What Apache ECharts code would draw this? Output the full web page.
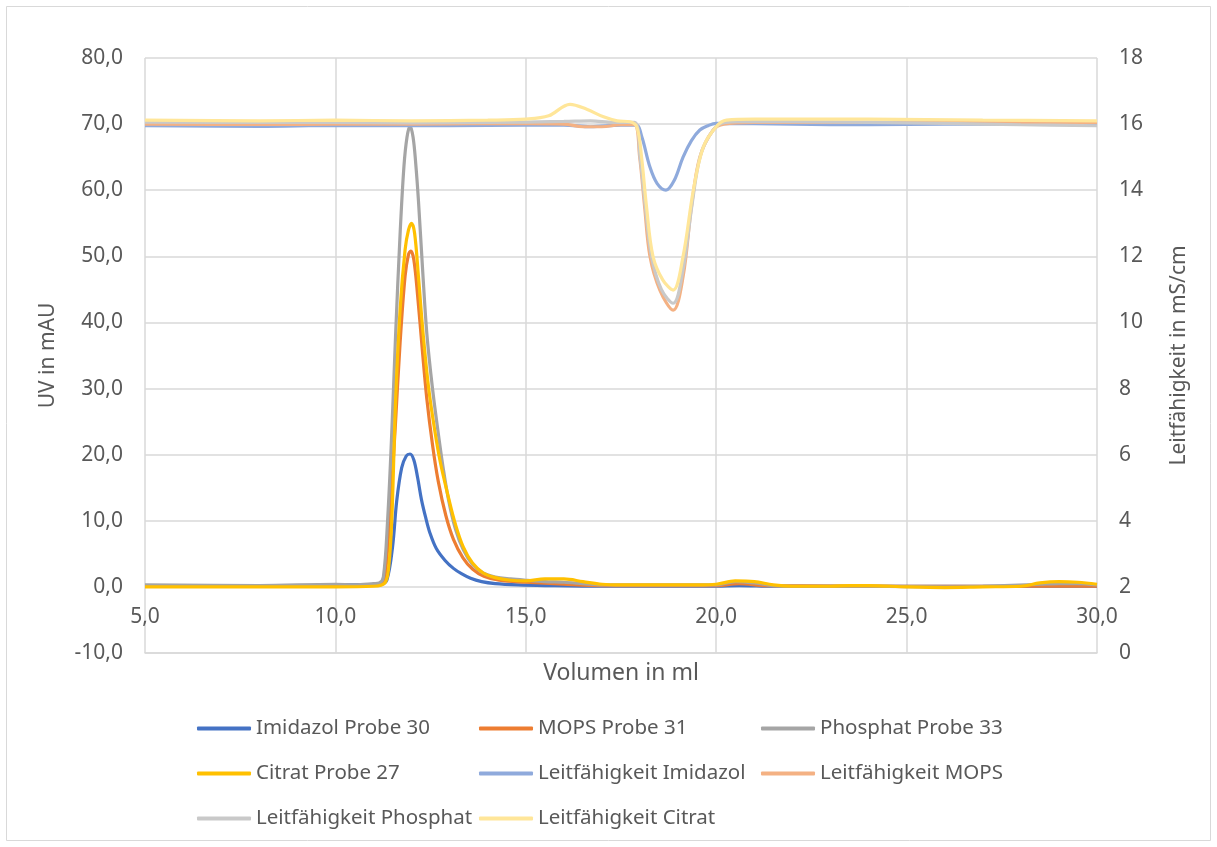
<!DOCTYPE html>
<html><head><meta charset="utf-8">
<script src="https://cdn.jsdelivr.net/npm/echarts@6/dist/echarts.min.js"></script>
<style>html,body{margin:0;padding:0;background:#fff}#c{width:1217px;height:847px}</style>
</head><body><div id="c"></div>
<script>
// ---- Data ----
const xTicks = [5, 10, 15, 20, 25, 30];

const imidazolX = [5, 7, 9, 10, 11, 11.2, 11.35, 11.5, 11.61, 11.74, 11.86, 11.96, 12.06, 12.16, 12.26, 12.37, 12.48, 12.65, 12.88, 13.1, 13.31, 13.55, 13.84, 14.2, 14.8, 15.5, 17, 19, 20, 20.6, 21.5, 24, 27, 30];
const imidazolY = [0.2, 0.2, 0.2, 0.3, 0.3, 0.4, 1.0, 6.0, 13.0, 18.0, 19.8, 20.1, 19.2, 16.5, 13.2, 10.5, 8.2, 5.8, 4.0, 2.8, 2.0, 1.3, 0.8, 0.5, 0.3, 0.2, 0.1, 0.1, 0.1, 0.2, 0.1, 0.1, 0.1, 0.1];

const mopsX = [5, 8, 10, 11, 11.2, 11.3, 11.42, 11.58, 11.7, 11.83, 11.92, 11.98, 12.06, 12.16, 12.28, 12.4, 12.55, 12.7, 12.9, 13.1, 13.35, 13.6, 13.9, 14.3, 15, 16, 17, 18, 20, 20.6, 21.3, 25, 30];
const mopsY = [0.1, 0.1, 0.1, 0.3, 0.5, 1.5, 10, 25, 37, 47, 50.3, 50.8, 49.5, 44, 36, 28.5, 21.5, 16, 10.8, 7.2, 4.4, 2.7, 1.6, 1.0, 0.7, 0.4, 0.2, 0.2, 0.2, 0.5, 0.2, 0.1, 0.1];

const phosphatX = [5, 8, 10, 10.5, 11, 11.15, 11.26, 11.37, 11.48, 11.58, 11.7, 11.8, 11.88, 11.96, 12.04, 12.11, 12.18, 12.29, 12.4, 12.55, 12.7, 12.83, 12.97, 13.15, 13.36, 13.6, 13.88, 14.2, 14.6, 15, 15.5, 16, 16.5, 17, 18, 19, 20, 20.5, 21, 21.5, 22, 24, 26, 27, 28.5, 29, 29.5, 30];
const phosphatY = [0.3, 0.2, 0.4, 0.3, 0.5, 0.6, 1.5, 10, 23.3, 38, 53.5, 63.6, 68, 69.7, 68, 64, 58.5, 48, 38.4, 30, 23.3, 18, 13.2, 8.8, 5.6, 3.4, 2.1, 1.5, 1.2, 1.0, 0.8, 0.7, 0.5, 0.3, 0.3, 0.3, 0.3, 0.8, 0.6, 0.2, 0.1, 0.1, 0.0, 0.1, 0.4, 0.5, 0.5, 0.3];

const citratX = [5, 10, 11, 11.3, 11.4, 11.48, 11.58, 11.7, 11.83, 11.92, 12.0, 12.08, 12.18, 12.3, 12.45, 12.6, 12.75, 12.97, 13.15, 13.36, 13.6, 13.88, 14.2, 14.6, 15, 15.5, 16, 16.5, 17, 17.5, 18.5, 19.5, 20, 20.5, 21, 21.5, 22, 23, 23.5, 24, 25, 26, 27, 28, 28.5, 29, 29.5, 30];
const citratY = [0.0, 0.0, 0.1, 0.6, 3, 10, 28, 42, 51, 54, 55, 53.5, 47, 38.5, 30, 24, 19, 13.5, 9.5, 6, 3.6, 2.1, 1.4, 1.0, 0.9, 1.2, 1.2, 0.8, 0.4, 0.3, 0.3, 0.3, 0.4, 0.9, 0.8, 0.3, 0.1, 0.1, 0.2, 0.2, 0.0, -0.1, 0.0, 0.1, 0.6, 0.8, 0.7, 0.4];

const lImidazolX = [5, 8, 10, 12, 14, 16, 16.7, 17.5, 17.9, 18.05, 18.26, 18.45, 18.68, 18.9, 19.13, 19.35, 19.57, 19.8, 20, 22, 24, 26, 28, 30];
const lImidazolY = [15.95, 15.93, 15.96, 15.95, 15.96, 15.97, 15.92, 15.97, 15.97, 15.6, 14.7, 14.2, 14.0, 14.3, 15.0, 15.5, 15.82, 15.96, 16.02, 16.0, 15.98, 16.0, 16.0, 16.0];

const lMopsX = [5, 8, 10, 12, 14, 16, 16.5, 17, 17.5, 17.85, 17.99, 18.12, 18.26, 18.52, 18.87, 19.13, 19.35, 19.57, 19.92, 20.2, 21, 24, 27, 30];
const lMopsY = [16.0, 15.99, 16.0, 16.0, 16.02, 16.0, 15.92, 15.92, 15.98, 15.98, 15.0, 13.5, 12.0, 10.98, 10.37, 11.38, 13.5, 15.0, 15.82, 16.0, 16.05, 16.05, 16.05, 16.05];

const lPhosphatX = [5, 8, 10, 12, 14, 16, 16.7, 17.3, 17.85, 18.0, 18.14, 18.3, 18.56, 18.87, 19.13, 19.37, 19.6, 19.95, 20.25, 21, 24, 26, 28, 30];
const lPhosphatY = [16.06, 16.05, 16.05, 16.04, 16.05, 16.08, 16.1, 16.05, 16.05, 15.0, 13.5, 12.0, 11.0, 10.58, 11.6, 13.6, 15.1, 15.86, 16.05, 16.08, 16.05, 16.02, 15.98, 15.95];

const lCitratX = [5, 8, 10, 12, 14, 15, 15.6, 16.16, 16.6, 17.04, 17.4, 17.74, 17.92, 18.04, 18.17, 18.34, 18.6, 18.87, 19.13, 19.4, 19.66, 20.0, 20.27, 21, 24, 27, 30];
const lCitratY = [16.12, 16.1, 16.12, 16.1, 16.12, 16.15, 16.25, 16.6, 16.45, 16.22, 16.1, 16.07, 15.9, 15.0, 13.5, 12.0, 11.28, 10.98, 12.0, 14.0, 15.3, 15.92, 16.12, 16.15, 16.15, 16.12, 16.1];

const seriesDefs = [
  {name: 'Imidazol Probe 30', x: imidazolX, y: imidazolY, color: '#4472C4', axis: 0},
  {name: 'MOPS Probe 31', x: mopsX, y: mopsY, color: '#ED7D31', axis: 0},
  {name: 'Phosphat Probe 33', x: phosphatX, y: phosphatY, color: '#A5A5A5', axis: 0},
  {name: 'Citrat Probe 27', x: citratX, y: citratY, color: '#FFC000', axis: 0},
  {name: 'Leitfähigkeit Imidazol', x: lImidazolX, y: lImidazolY, color: '#8FAADC', axis: 1},
  {name: 'Leitfähigkeit MOPS', x: lMopsX, y: lMopsY, color: '#F4B183', axis: 1},
  {name: 'Leitfähigkeit Phosphat', x: lPhosphatX, y: lPhosphatY, color: '#C9C9C9', axis: 1},
  {name: 'Leitfähigkeit Citrat', x: lCitratX, y: lCitratY, color: '#FFE699', axis: 1}
];

const FONT = 'Noto Sans';
const TXT = '#595959';
const GRID = '#D9D9D9';
const fmt1 = v => v.toFixed(1).replace('.', ',');

const chart = echarts.init(document.getElementById('c'), null, {renderer: 'canvas'});

const legendCommon = {
  orient: 'vertical', top: 718, padding: 0, itemWidth: 54, itemHeight: 4, itemGap: 24,
  icon: 'roundRect', textStyle: {color: TXT, fontFamily: FONT, fontSize: 20.5}, selectedMode: false
};

chart.setOption({
  animation: false,
  backgroundColor: '#fff',
  textStyle: {fontFamily: FONT},
  graphic: [{type: 'rect', shape: {x: 6.5, y: 6.5, width: 1204, height: 834}, style: {fill: 'none', stroke: GRID, lineWidth: 1}, silent: true}],
  grid: {left: 145, right: 120, top: 58, bottom: 194, containLabel: false},
  legend: [
    Object.assign({}, legendCommon, {left: 197, data: ['Imidazol Probe 30', 'Citrat Probe 27', 'Leitfähigkeit Phosphat']}),
    Object.assign({}, legendCommon, {left: 479, data: ['MOPS Probe 31', 'Leitfähigkeit Imidazol', 'Leitfähigkeit Citrat']}),
    Object.assign({}, legendCommon, {left: 761, data: ['Phosphat Probe 33', 'Leitfähigkeit MOPS']})
  ],
  xAxis: {
    type: 'value', min: xTicks[0], max: xTicks[xTicks.length - 1], interval: 5,
    name: 'Volumen in ml', nameLocation: 'middle', nameGap: 9,
    nameTextStyle: {color: TXT, fontSize: 23, fontFamily: FONT, verticalAlign: 'top'},
    axisLine: {show: true, onZero: false, lineStyle: {color: GRID, width: 1.5}},
    axisTick: {show: false},
    axisLabel: {color: TXT, fontSize: 21, fontFamily: FONT, margin: -46, formatter: v => fmt1(v)},
    splitLine: {show: true, lineStyle: {color: GRID, width: 1.5}}
  },
  yAxis: [
    {
      type: 'value', min: -10, max: 80, interval: 10, position: 'left',
      name: 'UV in mAU', nameLocation: 'middle', nameGap: 86, nameRotate: 90,
      nameTextStyle: {color: TXT, fontSize: 21, fontFamily: FONT},
      axisLine: {show: false}, axisTick: {show: false},
      axisLabel: {color: TXT, fontSize: 21, fontFamily: FONT, margin: 22, formatter: v => fmt1(v)},
      splitLine: {show: true, lineStyle: {color: GRID, width: 1.5}}
    },
    {
      type: 'value', min: 0, max: 18, interval: 2, position: 'right',
      name: 'Leitfähigkeit in mS/cm', nameLocation: 'middle', nameGap: 72, nameRotate: 90,
      nameTextStyle: {color: TXT, fontSize: 21, fontFamily: FONT},
      axisLine: {show: false}, axisTick: {show: false},
      axisLabel: {color: TXT, fontSize: 21, fontFamily: FONT, margin: 22},
      splitLine: {show: false}
    }
  ],
  series: seriesDefs.map(s => ({
    name: s.name, type: 'line', yAxisIndex: s.axis,
    data: s.x.map((xv, i) => [xv, s.y[i]]),
    smooth: 0.35, showSymbol: false, symbol: 'none',
    lineStyle: {color: s.color, width: 3.2}, itemStyle: {color: s.color},
    z: 2
  }))
});
</script></body></html>
